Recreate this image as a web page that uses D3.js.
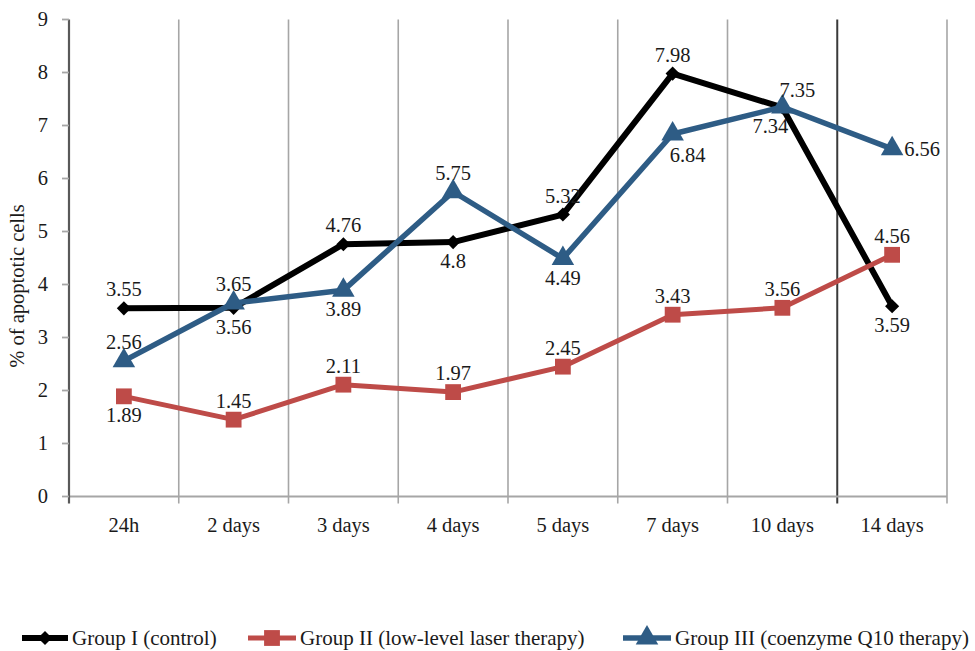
<!DOCTYPE html>
<html><head><meta charset="utf-8">
<script src="https://cdn.jsdelivr.net/npm/d3@7"></script>
<style>body{margin:0;background:#fff}svg{display:block}</style>
</head><body>
<script>
const categories = ["24h","2 days","3 days","4 days","5 days","7 days","10 days","14 days"];
const yTicks = [0,1,2,3,4,5,6,7,8,9];
const seriesNames = ["Group I (control)","Group II (low-level laser therapy)","Group III (coenzyme Q10 therapy)"];
const group1 = [3.55,3.56,4.76,4.8,5.32,7.98,7.34,3.59];
const group2 = [1.89,1.45,2.11,1.97,2.45,3.43,3.56,4.56];
const group3 = [2.56,3.65,3.89,5.75,4.49,6.84,7.35,6.56];
const labelPos1 = ["above","below","above","below","above","above","belowleft","below"];
const labelPos2 = ["below","above","above","above","above","above","above","above"];
const labelPos3 = ["above","above","below","above","below","belowright","aboveright","right"];

const W=975,H=651;
const svg=d3.select("body").append("svg").attr("width",W).attr("height",H)
  .attr("font-family","'Liberation Serif','DejaVu Serif','Times New Roman',serif").attr("fill","#1a1a1a");
const x=d3.scaleBand().domain(categories).range([69,947]);
const y=d3.scaleLinear().domain([0,9]).range([496.5,19.5]);
const FS=20.5;

const g=svg.append("g");
const bounds=categories.map(c=>x(c)+x.bandwidth());
bounds.forEach((b,i)=>{
  g.append("line").attr("x1",b).attr("x2",b).attr("y1",y(9)).attr("y2",y(0)+7)
   .attr("stroke", i===6?"#3a3a3a":"#a6a6a6").attr("stroke-width",i===6?2:1.6);
});
g.append("line").attr("x1",69).attr("x2",947).attr("y1",y(0)).attr("y2",y(0)).attr("stroke","#a6a6a6").attr("stroke-width",1.8);
categories.forEach(c=>{
  g.append("text").attr("x",x(c)+x.bandwidth()/2).attr("y",532).attr("text-anchor","middle").attr("font-size",FS).text(c);
});
g.append("line").attr("x1",69).attr("x2",69).attr("y1",y(9)).attr("y2",y(0)+7).attr("stroke","#595959").attr("stroke-width",2.2);
yTicks.forEach(t=>{
  g.append("line").attr("x1",62).attr("x2",69).attr("y1",y(t)).attr("y2",y(t)).attr("stroke","#a6a6a6").attr("stroke-width",1.8);
  g.append("text").attr("x",48).attr("y",y(t)+6.5).attr("text-anchor","end").attr("font-size",FS).text(t);
});
svg.append("text").attr("transform","translate(24,286) rotate(-90)").attr("text-anchor","middle").attr("font-size",FS).text("% of apoptotic cells");

const colors=["#000000","#be4b48","#2e5c85"];
const widths=[6,5,5.5];
const sizes=[200,250,220];
const data=[group1,group2,group3];
const lpos=[labelPos1,labelPos2,labelPos3];
const line=d3.line().x((d,i)=>x(categories[i])+x.bandwidth()/2).y(d=>y(d));
const diamond={draw(ctx,size){const r=Math.sqrt(size)/2;ctx.moveTo(0,-r);ctx.lineTo(r,0);ctx.lineTo(0,r);ctx.lineTo(-r,0);ctx.closePath();}};
const symDefs=[diamond,d3.symbolSquare,d3.symbolTriangle];

data.forEach((arr,s)=>{
  svg.append("path").datum(arr).attr("d",line).attr("fill","none").attr("stroke",colors[s]).attr("stroke-width",widths[s]).attr("stroke-linejoin","round");
});
data.forEach((arr,s)=>{
  arr.forEach((v,i)=>{
    const cx=x(categories[i])+x.bandwidth()/2, cy=y(v);
    svg.append("path").attr("d",d3.symbol(symDefs[s],sizes[s])()).attr("transform",`translate(${cx},${cy})`).attr("fill",colors[s]);
  });
});
data.forEach((arr,s)=>{
  arr.forEach((v,i)=>{
    const cx=x(categories[i])+x.bandwidth()/2, cy=y(v);
    const p=lpos[s][i];
    let tx=cx, ty=cy, anchor="middle";
    if(p==="above"){ty=cy-12;}
    else if(p==="below"){ty=cy+26;}
    else if(p==="belowleft"){ty=cy+26;tx=cx-12;}
    else if(p==="belowright"){ty=cy+28;tx=cx+15;}
    else if(p==="aboveright"){ty=cy-10;tx=cx+15;}
    else if(p==="right"){tx=cx+12;ty=cy+7;anchor="start";}
    svg.append("text").attr("x",tx).attr("y",ty).attr("text-anchor",anchor).attr("font-size",FS).text(v);
  });
});

const legendX=[22,248,623], textX=[72,300,675];
seriesNames.forEach((n,s)=>{
  const ly=638;
  const x0=legendX[s], x1=textX[s]-4;
  svg.append("line").attr("x1",x0).attr("x2",x1).attr("y1",ly).attr("y2",ly).attr("stroke",colors[s]).attr("stroke-width",widths[s]);
  svg.append("path").attr("d",d3.symbol(symDefs[s],sizes[s])()).attr("transform",`translate(${(x0+x1)/2},${ly})`).attr("fill",colors[s]);
  svg.append("text").attr("x",textX[s]).attr("y",ly+7).attr("font-size",21).text(n);
});
</script>
</body></html>
